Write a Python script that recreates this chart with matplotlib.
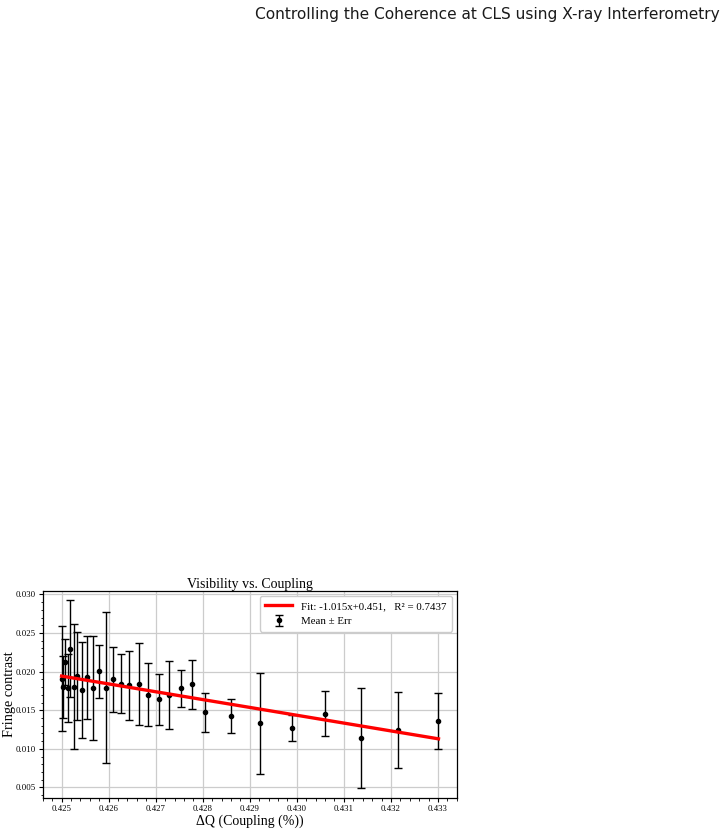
import numpy as np
import matplotlib
matplotlib.use("Agg")
import matplotlib.pyplot as plt
from matplotlib.ticker import AutoMinorLocator, MultipleLocator

# ---- data ----
coupling = [0.42500, 0.42504, 0.42508, 0.42513, 0.42518, 0.42526, 0.42533,
            0.42543, 0.42554, 0.42567, 0.42579, 0.42594, 0.42609, 0.42626,
            0.42644, 0.42664, 0.42684, 0.42706, 0.42728, 0.42753, 0.42777,
            0.42805, 0.42861, 0.42922, 0.42989, 0.43060, 0.43136, 0.43216,
            0.43301]
contrast = [0.01910, 0.01804, 0.02126, 0.01787, 0.02296, 0.01804, 0.01944,
            0.01761, 0.01926, 0.01787, 0.02004, 0.01791, 0.01900, 0.01844,
            0.01822, 0.01844, 0.01700, 0.01644, 0.01700, 0.01787, 0.01835,
            0.01474, 0.01422, 0.01330, 0.01274, 0.01457, 0.01139, 0.01248,
            0.01361]
err = [0.0068, 0.0040, 0.0030, 0.0044, 0.0063, 0.0081, 0.0057,
       0.0062, 0.0054, 0.0067, 0.0034, 0.0098, 0.0042, 0.0038,
       0.0045, 0.0053, 0.0041, 0.0033, 0.0044, 0.0024, 0.0032,
       0.0025, 0.0022, 0.0065, 0.0017, 0.0029, 0.0065, 0.0049,
       0.0036]
fit_slope = -1.015
fit_intercept = 0.4508
fit_label = "Fit: -1.015x+0.451,   R\u00b2 = 0.7437"
data_label = "Mean \u00b1 Err"
title = "Visibility vs. Coupling"
xlabel = "\u0394Q (Coupling (%))"
ylabel = "Fringe contrast"
header = "Controlling the Coherence at CLS using X-ray Interferometry"

plt.rcParams['font.family'] = ['Liberation Serif', 'DejaVu Serif']

fig = plt.figure(figsize=(7.28, 8.30), dpi=100)
fig.text(0.989, 0.983, header, ha='right', va='center',
         fontsize=11.1, family=['DejaVu Sans'], color='#1a1a1a')

ax = fig.add_axes([0.0587, 0.0389, 0.5695, 0.2494])

x = np.array(coupling)
xf = np.array([x.min(), x.max()])
ax.plot(xf, fit_slope * xf + fit_intercept, color='red', lw=2.4,
        label=fit_label, zorder=3)
ax.errorbar(x, contrast, yerr=err, fmt='o', color='black', ms=3,
            elinewidth=1.0, capsize=3, capthick=1.0, label=data_label,
            zorder=2)

ax.grid(True, color='#cccccc', lw=0.9)
ax.set_axisbelow(True)
ax.xaxis.set_major_locator(MultipleLocator(0.001))
ax.yaxis.set_major_locator(MultipleLocator(0.005))
ax.xaxis.set_minor_locator(AutoMinorLocator(5))
ax.yaxis.set_minor_locator(AutoMinorLocator(5))
ax.xaxis.set_major_formatter(plt.FormatStrFormatter('%.3f'))
ax.yaxis.set_major_formatter(plt.FormatStrFormatter('%.3f'))
ax.tick_params(axis='both', which='major', labelsize=6.3, length=3,
               width=0.8, pad=2)
ax.tick_params(axis='both', which='minor', length=1.8, width=0.6)
for s in ax.spines.values():
    s.set_color('black')
    s.set_linewidth(0.9)

ax.set_title(title, fontsize=10, pad=2)
ax.set_xlabel(xlabel, fontsize=10, labelpad=1)
ax.set_ylabel(ylabel, fontsize=10.3)
ax.yaxis.set_label_coords(-0.064, 0.5)

ax.legend(loc='upper right', fontsize=7.8, framealpha=1, borderpad=0.5,
          handlelength=2.5)

fig.savefig("out.png", dpi=100)
